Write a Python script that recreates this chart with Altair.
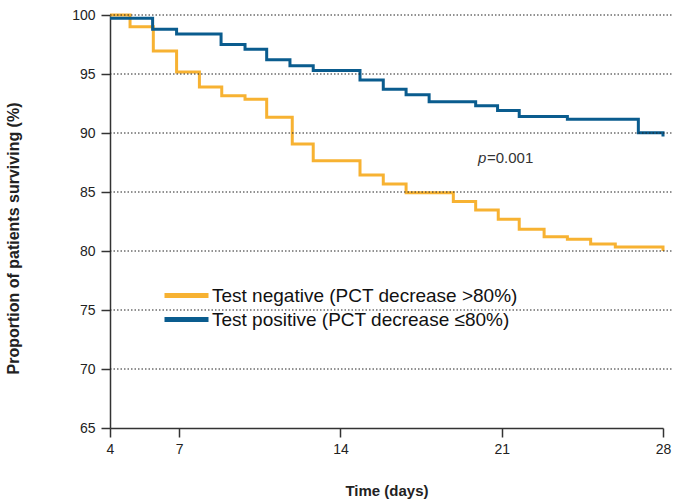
import altair as alt
import pandas as pd

neg_days = [4, 4.87, 5.88, 6.89, 7.88, 8.85, 9.86, 10.80, 11.91, 12.82, 14.85, 15.86,
            16.85, 18.90, 19.87, 20.85, 21.76, 22.84, 23.85, 24.86, 25.93, 28]
neg_surv = [100, 99.0, 96.95, 95.17, 93.9, 93.16, 92.85, 91.33, 89.07, 87.65, 86.44, 85.68,
            84.94, 84.2, 83.47, 82.7, 81.84, 81.2, 80.99, 80.6, 80.34, 80.0]

pos_days = [4, 5.85, 6.89, 8.82, 9.86, 10.80, 11.81, 12.82, 14.85, 15.86, 16.85, 17.85,
            19.87, 20.82, 21.76, 23.85, 26.93, 28]
pos_surv = [99.72, 98.8, 98.4, 97.5, 97.1, 96.2, 95.7, 95.3, 94.5, 93.7, 93.25, 92.65,
            92.3, 91.9, 91.4, 91.16, 90.03, 89.7]

series = ["Test negative (PCT decrease >80%)", "Test positive (PCT decrease \u226480%)"]
colors = ["#F7B232", "#0A5C8E"]

x_ticks = [4, 7, 14, 21, 28]
y_ticks = [65, 70, 75, 80, 85, 90, 95, 100]
grid_vals = [70, 75, 80, 85, 90, 95, 100]

rows = []
for i, (d, s) in enumerate(zip(neg_days, neg_surv)):
    rows.append({"day": d, "surv": s, "group": series[0], "o": i})
for i, (d, s) in enumerate(zip(pos_days, pos_surv)):
    rows.append({"day": d, "surv": s, "group": series[1], "o": i})
df = pd.DataFrame(rows)

W, H = 553, 413
FONT = "Liberation Sans"

xscale = alt.Scale(domain=[4, 28], nice=False, zero=False)
yscale = alt.Scale(domain=[65, 100], nice=False, zero=False)

x_axis = alt.Axis(values=x_ticks, title="Time (days)", grid=False, labelFlush=False,
                  domainColor="#333", domainWidth=1.5, tickColor="#333",
                  tickWidth=1.5, tickSize=9, labelFontSize=14, labelColor="#222",
                  labelPadding=5, labelFont=FONT, titleFont=FONT,
                  titleFontSize=15, titleFontWeight="bold", titleColor="#222",
                  titleY=67, titleBaseline="alphabetic")
y_axis = alt.Axis(values=y_ticks, title="Proportion of patients surviving (%)",
                  grid=False, domainColor="#333", domainWidth=1.5,
                  tickColor="#333", tickWidth=1.5, tickSize=9, labelFontSize=14,
                  labelColor="#222", labelPadding=6, labelFont=FONT,
                  titleFont=FONT, titleFontSize=16, titleFontWeight="bold",
                  titleColor="#222", titleX=-92, titleY=223,
                  titleBaseline="alphabetic")

lines = alt.Chart(df).mark_line(interpolate="step-after", strokeWidth=3).encode(
    x=alt.X("day:Q", scale=xscale, axis=x_axis),
    y=alt.Y("surv:Q", scale=yscale, axis=y_axis),
    color=alt.Color("group:N", scale=alt.Scale(domain=series, range=colors),
                    legend=alt.Legend(title=None, orient="none", legendX=67, legendY=271,
                                      symbolType="M-4.4,0L4.4,0", symbolSize=100,
                                      symbolStrokeWidth=5, labelFontSize=19,
                                      labelFont=FONT, labelColor="#111", labelOffset=16,
                                      labelLimit=0, rowPadding=3, padding=0)),
    order="o:Q",
)

grid = alt.Chart(pd.DataFrame({"surv": grid_vals})).mark_rule(
    color="#222", strokeDash=[1.5, 2], strokeWidth=1
).encode(
    y=alt.Y("surv:Q", scale=yscale),
    x=alt.value(0),
    x2=alt.value(W + 9),
)

ptxt = alt.Chart(pd.DataFrame({"day": [19.97], "surv": [87.9]})).mark_text(
    text="p", fontStyle="italic", fontSize=15, font=FONT, align="left",
    baseline="middle", color="#333"
).encode(x=alt.X("day:Q", scale=xscale), y=alt.Y("surv:Q", scale=yscale))

vtxt = alt.Chart(pd.DataFrame({"day": [19.97], "surv": [87.9]})).mark_text(
    text="=0.001", fontSize=15, font=FONT, align="left", baseline="middle",
    color="#333", dx=9
).encode(x=alt.X("day:Q", scale=xscale), y=alt.Y("surv:Q", scale=yscale))

chart = alt.layer(lines, grid, ptxt, vtxt).properties(
    width=W, height=H,
    background="white",
    autosize=alt.AutoSizeParams(type="none"),
    padding={"left": 110, "top": 15, "right": 12, "bottom": 76},
).configure_view(stroke=None)

chart.save("out.html", embed_options={"renderer": "svg", "actions": False})
